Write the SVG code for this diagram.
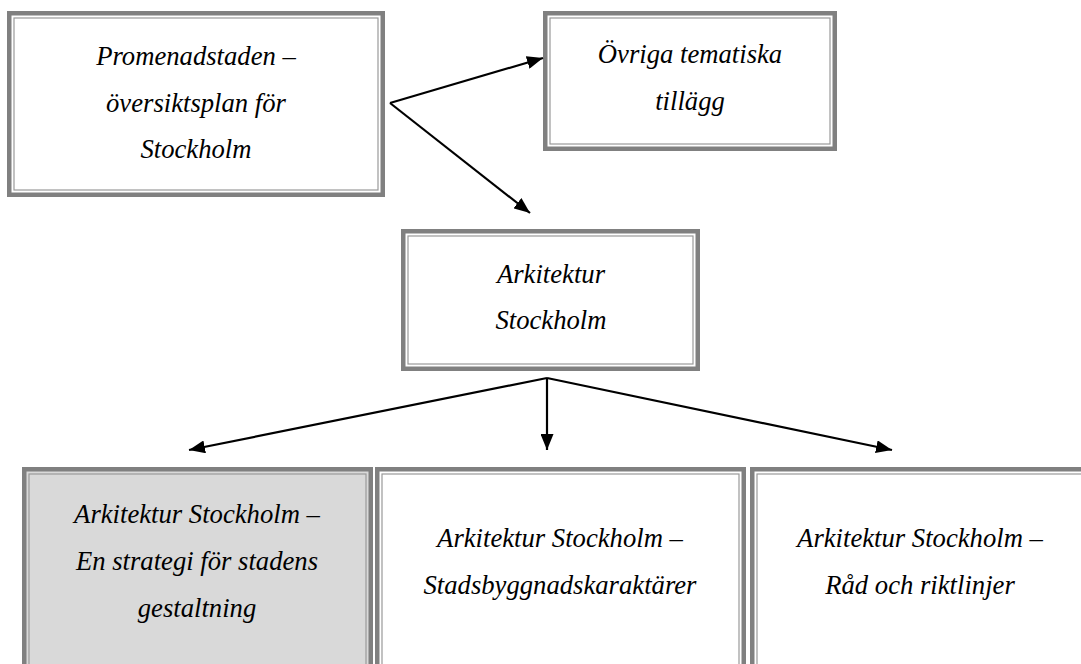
<svg xmlns="http://www.w3.org/2000/svg" width="1081" height="664" viewBox="0 0 1081 664">
<style>
.outer{fill:none;stroke:#808080;stroke-width:4.5}
.inner{fill:none;stroke:#999999;stroke-width:1.2}
.bg{fill:#ffffff}
.grey{fill:#d9d9d9}
.t{font-family:"Liberation Serif","Times New Roman",serif;font-style:italic;font-size:26.67px;fill:#000;text-anchor:middle}
.c{fill:none;stroke:#000;stroke-width:2.2;marker-end:url(#ah)}
</style>
<defs>
<marker id="ah" markerUnits="userSpaceOnUse" markerWidth="16" markerHeight="13" viewBox="0 0 16 13" refX="16" refY="6.5" orient="auto">
<path d="M0,0 L16,6.5 L0,13 Z" fill="#000"/>
</marker>
</defs>
<rect x="0" y="0" width="1081" height="664" fill="#fff"/>
<g id="n1">
<rect class="bg" x="7" y="11" width="378" height="186"/>
<rect class="outer" x="9.25" y="13.25" width="373.5" height="181.5"/>
<rect class="inner" x="14" y="18" width="364" height="172"/>
<text class="t" x="196" y="65">Promenadstaden –</text>
<text class="t" x="196" y="112">översiktsplan för</text>
<text class="t" x="196" y="158">Stockholm</text>
</g>
<g id="n2">
<rect class="bg" x="543" y="11" width="294" height="140"/>
<rect class="outer" x="545.25" y="13.25" width="289.5" height="135.5"/>
<rect class="inner" x="550" y="18" width="280" height="126"/>
<text class="t" x="690" y="63">Övriga tematiska</text>
<text class="t" x="690" y="110">tillägg</text>
</g>
<g id="n3">
<rect class="bg" x="401" y="229" width="299" height="142"/>
<rect class="outer" x="403.25" y="231.25" width="294.5" height="137.5"/>
<rect class="inner" x="408" y="236" width="285" height="128"/>
<text class="t" x="551" y="283">Arkitektur</text>
<text class="t" x="551" y="329">Stockholm</text>
</g>
<g id="n4">
<rect class="grey" x="22" y="467" width="351" height="213"/>
<rect class="outer" x="24.25" y="469.25" width="346.5" height="208.5"/>
<rect class="inner" x="29" y="474" width="337" height="199"/>
<text class="t" x="197" y="523">Arkitektur Stockholm –</text>
<text class="t" x="197" y="570">En strategi för stadens</text>
<text class="t" x="197" y="617">gestaltning</text>
</g>
<g id="n5">
<rect class="bg" x="375" y="467" width="371" height="213"/>
<rect class="outer" x="377.25" y="469.25" width="366.5" height="208.5"/>
<rect class="inner" x="382" y="474" width="357" height="199"/>
<text class="t" x="560" y="547">Arkitektur Stockholm –</text>
<text class="t" x="560" y="594">Stadsbyggnadskaraktärer</text>
</g>
<g id="n6">
<rect class="bg" x="750" y="467" width="340" height="213"/>
<rect class="outer" x="752.25" y="469.25" width="335.5" height="208.5"/>
<rect class="inner" x="757" y="474" width="326" height="199"/>
<text class="t" x="920" y="547">Arkitektur Stockholm –</text>
<text class="t" x="920" y="594">Råd och riktlinjer</text>
</g>
<g id="connectors">
<path class="c" d="M390,103 L543,58"/>
<path class="c" d="M390,103 L530,213"/>
<path class="c" d="M547,378 L189,450"/>
<path class="c" d="M547,378 L547,450"/>
<path class="c" d="M547,378 L892,450"/>
</g>
</svg>
